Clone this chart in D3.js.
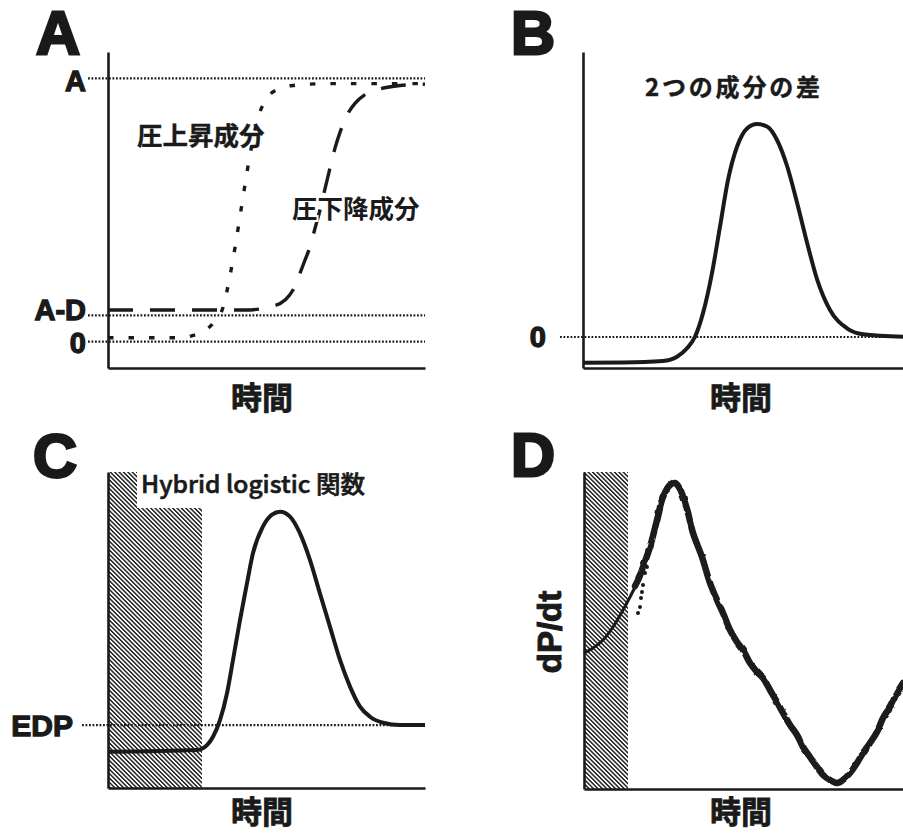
<!DOCTYPE html>
<html><head><meta charset="utf-8">
<script src="https://cdn.jsdelivr.net/npm/d3@7"></script>
<style>body{margin:0;background:#fff}svg{display:block}</style>
</head><body>
<svg id="c" width="903" height="833"></svg>
<script>
// ---------- DATA ----------
const panelLetters = ["A", "B", "C", "D"];
const timeLabel = "時間";

// Panel A : two logistic components (A = 100, A-D = 10, 0 = 0)
const aTickLabels = ["A", "A-D", "0"];
const aTickValues = [100, 10, 0];
const aRiseName = "圧上昇成分";
const aRiseT = [0, 70, 90, 105, 115, 122, 128, 133, 138, 144, 150, 158, 168, 185, 220, 317];
const aRiseV = [1.5, 1.5, 3, 7, 13, 25, 38, 50, 62, 75, 85, 92, 95.5, 97.3, 98, 98];
const aFallName = "圧下降成分";
const aFallT = [0, 137, 165, 177, 185, 192, 197, 202, 207, 212, 217, 222, 227, 232, 239, 247, 257, 272, 292, 317];
const aFallV = [12, 12, 13.5, 15.8, 19.6, 26, 31, 36, 43, 50, 58, 66, 73.5, 79.5, 86, 90.5, 93.8, 96, 97.3, 97.8];

// Panel B : difference of the two components
const bTitle = "2つの成分の差";
const bTickLabels = ["0"];
const bTickValues = [0];
const bT = [0, 40, 80, 94, 104, 112, 120, 129, 137, 145, 154, 164, 174, 184, 194, 204, 214, 224, 234, 247, 264, 280, 320];
const bV = [-12.1, -12, -11.3, -9.3, -5.3, 0.1, 11.2, 30, 51.8, 73.7, 89.3, 97.9, 100, 98.8, 92.5, 80.4, 63.2, 44.4, 27.2, 12.7, 4.1, 1.3, 0.1];

// Panel C : hybrid logistic function
const cTitle = "Hybrid logistic 関数";
const cTickLabels = ["EDP"];
const cTickValues = [0];
const cHatchEnd = 94;
const cT = [0, 89, 99, 105, 112, 119, 125, 132, 139, 145, 155, 164, 172, 182, 192, 202, 212, 222, 232, 242, 252, 262, 275, 292, 317];
const cV = [-12.5, -11.7, -9.4, -5.5, 2.3, 14.9, 30.5, 49.2, 66.5, 80.6, 93.1, 98.6, 100, 97.7, 89.8, 77.3, 61.6, 46, 30.5, 18, 8.6, 3.9, 1.1, 0, 0];

// Panel D : dP/dt
const dYLabel = "dP/dt";
const dHatchEnd = 44;
const dFitT = [0, 9, 19, 29, 39, 46, 52, 56];
const dFitV = [136, 141, 149, 162, 179, 192, 204, 213];
const dDotT = [54, 56, 57, 58, 59, 61, 63];
const dDotV = [176, 182, 191, 197, 204, 216, 222];
const dDataT = [51, 55, 59, 66, 73, 79, 86, 91, 96, 103, 109, 118, 126, 133, 139, 146, 153, 159, 166, 173, 179, 186, 193, 199, 206, 213, 219, 226, 233, 239, 246, 253, 259, 266, 273, 279, 286, 293, 299, 306, 313, 319];
const dDataV = [203, 211, 222, 242, 269, 292, 304, 306, 300, 280, 256, 232, 206, 189, 176, 159, 147, 139, 126, 117, 111, 99, 87, 76, 64, 54, 42, 32, 22, 14, 9, 6, 9, 16, 26, 36, 46, 57, 71, 82, 96, 106];

// ---------- DRAW ----------
const svg = d3.select("#c");
const ink = "#1a1a1a";
const jp = "'Noto Sans CJK JP','Noto Sans',sans-serif";
const lat = "'Liberation Sans',Arial,sans-serif";

const defs = svg.append("defs");
const pat = defs.append("pattern").attr("id", "hatch").attr("patternUnits", "userSpaceOnUse")
  .attr("width", 3.1).attr("height", 3.1).attr("patternTransform", "rotate(-45)");
pat.append("rect").attr("width", 3.1).attr("height", 3.1).attr("fill", "#fff");
pat.append("line").attr("x1", 1.5).attr("x2", 1.5).attr("y1", -1).attr("y2", 4.1)
  .attr("stroke", ink).attr("stroke-width", 1.45);
const flt = defs.append("filter").attr("id", "rough").attr("filterUnits", "userSpaceOnUse")
  .attr("x", 560).attr("y", 450).attr("width", 360).attr("height", 360);
flt.append("feTurbulence").attr("type", "fractalNoise").attr("baseFrequency", 0.12).attr("numOctaves", 1).attr("seed", 7).attr("result", "n");
flt.append("feDisplacementMap").attr("in", "SourceGraphic").attr("in2", "n").attr("scale", 3)
  .attr("xChannelSelector", "R").attr("yChannelSelector", "G");

function drawAxes(x, y) {
  const gx = svg.append("g").attr("transform", `translate(0,${y.range()[0]})`)
    .call(d3.axisBottom(x).tickValues([]).tickSizeOuter(0));
  const gy = svg.append("g").attr("transform", `translate(${x.range()[0]},0)`)
    .call(d3.axisLeft(y).tickValues([]).tickSizeOuter(0));
  [gx, gy].forEach(g => g.select(".domain").attr("stroke", ink).attr("stroke-width", 2.6));
}
function refLine(x0, x, y, v) {
  svg.append("line").attr("x1", x0).attr("x2", x.range()[1]).attr("y1", y(v)).attr("y2", y(v))
    .attr("stroke", ink).attr("stroke-width", 2.2).attr("stroke-dasharray", "1.8,1.7");
}
function tickLabel(xr, yy, txt, size) {
  svg.append("text").attr("x", xr).attr("y", yy).attr("dy", "0.36em").attr("text-anchor", "end")
    .attr("font-family", lat).attr("font-weight", "bold").attr("font-size", size)
    .attr("stroke", ink).attr("stroke-width", 1.3).attr("fill", ink).text(txt);
}
function letter(cx, base, t) {
  svg.append("text").attr("x", cx).attr("y", base).attr("text-anchor", "middle")
    .attr("font-family", lat).attr("font-weight", "bold").attr("font-size", 61)
    .attr("fill", ink).attr("stroke", ink).attr("stroke-width", 2.8).text(t);
}
function timeText(cx, base) {
  svg.append("text").attr("x", cx).attr("y", base).attr("text-anchor", "middle")
    .attr("font-family", jp).attr("font-weight", "bold").attr("font-size", 31)
    .attr("fill", ink).attr("stroke", ink).attr("stroke-width", 0.8).text(timeLabel);
}
const mkLine = (x, y, c) => d3.line().x(d => x(d[0])).y(d => y(d[1])).curve(c || d3.curveMonotoneX);

// ----- Panel A -----
{
  const x = d3.scaleLinear([0, 317], [108, 425]);
  const y = d3.scaleLinear([-10, 110], [368, 52]);
  const nudge = [2, -6, 1];
  aTickValues.forEach(v => refLine(88, x, y, v));
  drawAxes(x, y);
  aTickValues.forEach((v, i) => tickLabel(86, y(v) + nudge[i], aTickLabels[i], 29));
  svg.append("path").attr("d", mkLine(x, y)(d3.zip(aRiseT, aRiseV)))
    .attr("fill", "none").attr("stroke", ink).attr("stroke-width", 3.4).attr("stroke-dasharray", "5.5,15");
  svg.append("path").attr("d", mkLine(x, y)(d3.zip(aFallT, aFallV)))
    .attr("fill", "none").attr("stroke", ink).attr("stroke-width", 3.4).attr("stroke-dasharray", "25,17");
  svg.append("text").attr("x", 137).attr("y", 145).attr("font-family", jp).attr("font-weight", "bold")
    .attr("font-size", 25.5).attr("fill", ink).attr("stroke", ink).attr("stroke-width", 0.4).text(aRiseName);
  svg.append("text").attr("x", 292).attr("y", 218).attr("font-family", jp).attr("font-weight", "bold")
    .attr("font-size", 25.5).attr("fill", ink).attr("stroke", "#fff").attr("stroke-width", 4)
    .attr("paint-order", "stroke").text(aFallName);
  letter(58, 54, panelLetters[0]);
  timeText(262, 409);
}

// ----- Panel B -----
{
  const x = d3.scaleLinear([0, 320], [583, 903]);
  const y = d3.scaleLinear([-14.55, 133.8], [368, 52]);
  bTickValues.forEach(v => refLine(560, x, y, v));
  drawAxes(x, y);
  bTickValues.forEach((v, i) => tickLabel(546, y(v), bTickLabels[i], 29));
  svg.append("path").attr("d", mkLine(x, y)(d3.zip(bT, bV)))
    .attr("fill", "none").attr("stroke", ink).attr("stroke-width", 4);
  svg.append("text").attr("x", 645).attr("y", 96).attr("font-family", jp).attr("font-weight", "bold")
    .attr("font-size", 24).attr("textLength", 175).attr("lengthAdjust", "spacing")
    .attr("fill", ink).attr("stroke", ink).attr("stroke-width", 0.4).text(bTitle);
  letter(533, 54, panelLetters[1]);
  timeText(741, 409);
}

// ----- Panel C -----
{
  const x = d3.scaleLinear([0, 317], [108, 425]);
  const y = d3.scaleLinear([-29.5, 118.6], [788, 472]);
  svg.append("rect").attr("x", x(0)).attr("y", y.range()[1]).attr("width", x(cHatchEnd) - x(0))
    .attr("height", y.range()[0] - y.range()[1]).attr("fill", "url(#hatch)");
  svg.append("rect").attr("x", 137).attr("y", 468).attr("width", 235).attr("height", 40).attr("fill", "#fff");
  svg.append("text").attr("x", 141).attr("y", 493).attr("font-family", jp).attr("font-weight", 500)
    .attr("font-size", 24).attr("textLength", 224).attr("lengthAdjust", "spacingAndGlyphs")
    .attr("fill", ink).attr("stroke", ink).attr("stroke-width", 0.6).text(cTitle);
  cTickValues.forEach(v => refLine(82, x, y, v));
  drawAxes(x, y);
  cTickValues.forEach((v, i) => tickLabel(73, y(v), cTickLabels[i], 30));
  svg.append("path").attr("d", mkLine(x, y)(d3.zip(cT, cV)))
    .attr("fill", "none").attr("stroke", ink).attr("stroke-width", 4);
  letter(55, 477, panelLetters[2]);
  timeText(262, 823);
}

// ----- Panel D -----
{
  const x = d3.scaleLinear([0, 319], [584, 903]);
  const y = d3.scaleLinear([0, 317], [789, 472]);
  svg.append("rect").attr("x", x(0)).attr("y", y.range()[1]).attr("width", x(dHatchEnd) - x(0))
    .attr("height", y.range()[0] - y.range()[1]).attr("fill", "url(#hatch)");
  drawAxes(x, y);
  svg.append("path").attr("d", mkLine(x, y, d3.curveCatmullRom)(d3.zip(dFitT, dFitV)))
    .attr("fill", "none").attr("stroke", ink).attr("stroke-width", 3);
  svg.selectAll(null).data(d3.zip(dDotT, dDotV)).join("circle")
    .attr("cx", d => x(d[0])).attr("cy", d => y(d[1])).attr("r", 2).attr("fill", ink);
  svg.append("path").attr("d", mkLine(x, y, d3.curveCatmullRom)(d3.zip(dDataT, dDataV)))
    .attr("fill", "none").attr("stroke", ink).attr("stroke-width", 6.5).attr("stroke-linejoin", "round")
    .attr("stroke-linecap", "round").attr("filter", "url(#rough)");
  svg.append("text").attr("transform", "translate(561,632) rotate(-90)").attr("text-anchor", "middle")
    .attr("font-family", lat).attr("font-weight", "bold").attr("font-size", 33)
    .attr("fill", ink).attr("stroke", ink).attr("stroke-width", 1).text(dYLabel);
  letter(533, 476, panelLetters[3]);
  timeText(741, 823);
}
</script>
</body></html>
